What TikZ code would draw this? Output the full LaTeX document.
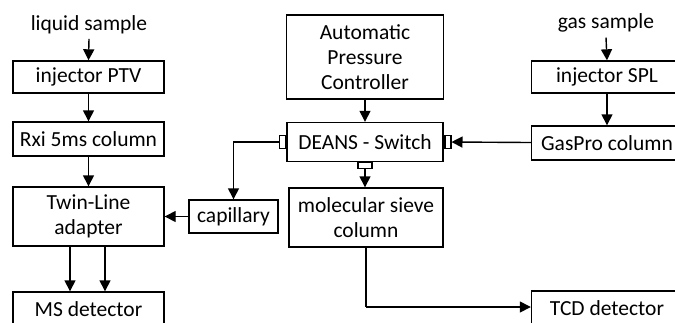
\documentclass[tikz,border=0pt]{standalone}
\usepackage{fontspec}
\setmainfont{Carlito}
\usetikzlibrary{arrows.meta}
\begin{document}
\begin{tikzpicture}[x=1pt,y=-1pt,
  txt/.style={font=\fontsize{21.5}{25}\selectfont},
  box/.style={txt, draw, line width=1.4pt, inner sep=0pt, align=center,
    minimum width=151pt},
  lbl/.style={txt, inner xsep=0pt, inner ysep=5pt},
  port/.style={draw, line width=1.1pt, fill=white, inner sep=0pt},
  flow/.style={line width=1.4pt, -{Triangle[width=11pt,length=11pt]}},
  wire/.style={line width=1.4pt}]
\useasboundingbox (0,0) rectangle (675,322);
\clip (0,0) rectangle (675,322);

% liquid branch
\node[lbl] (liq) at (89,24.5) {liquid sample};
\node[box, minimum height=32pt] (ptv) at (88.5,77) {injector PTV};
\node[box, minimum height=34pt] (rxi) at (88.5,139) {Rxi 5ms column};
\node[box, minimum height=59pt] (twin) at (88.5,216.5) {Twin-Line\\adapter};
\node[box, minimum height=34pt] (ms) at (88.5,309) {MS detector};
\node[box, minimum width=89pt, minimum height=33pt] (cap) at (233.5,216.5) {capillary};

% pressure control and switch
\node[box, minimum width=157pt, minimum height=84pt] (apc) at (365,57) {Automatic\\Pressure\\Controller};
\node[box, minimum width=156pt, minimum height=39pt] (deans) at (365,142) {DEANS - Switch};
\node[port, minimum width=6pt, minimum height=13pt, anchor=east] (pl) at ([xshift=-0.7pt]deans.west) {};
\node[port, minimum width=6pt, minimum height=13pt, anchor=west] (pr) at ([xshift=0.7pt]deans.east) {};
\node[port, minimum width=14pt, minimum height=6pt, anchor=north] (pb) at ([yshift=0.7pt]deans.south) {};
\node[box, minimum width=154pt, minimum height=59pt] (sieve) at (366,217.5) {molecular sieve\\column};

% gas branch
\node[lbl] (gas) at (606,23) {gas sample};
\node[box, minimum height=32pt] (spl) at (607,77) {injector SPL};
\node[box, minimum height=34pt] (gaspro) at (607,143) {GasPro column};
\node[box, minimum height=34pt] (tcd) at (607,308) {TCD detector};

\coordinate (bend) at (366,307);

% connectors
\draw[flow] (liq.south) -- (ptv.north);
\draw[flow] (ptv) -- (rxi);
\draw[flow] (rxi) -- (twin);
\draw[flow] ([xshift=-18.5pt]twin.south) -- ([xshift=-18.5pt]ms.north);
\draw[flow] ([xshift=16.5pt]twin.south) -- ([xshift=16.5pt]ms.north);
\draw[flow] (cap) -- (twin);
\draw[flow] (pl.west) -| (cap.north);
\draw[flow] (apc) -- (deans);
\draw[flow] (gaspro) -- (pr.east);
\draw[flow] (pb.south) -- (pb.south |- sieve.north);
\draw[wire] (sieve.south) -- (bend);
\draw[flow] (bend) -- (bend -| tcd.west);
\draw[flow] (gas.south) -- (spl.north);
\draw[flow] (spl) -- (gaspro);
\end{tikzpicture}
\end{document}
